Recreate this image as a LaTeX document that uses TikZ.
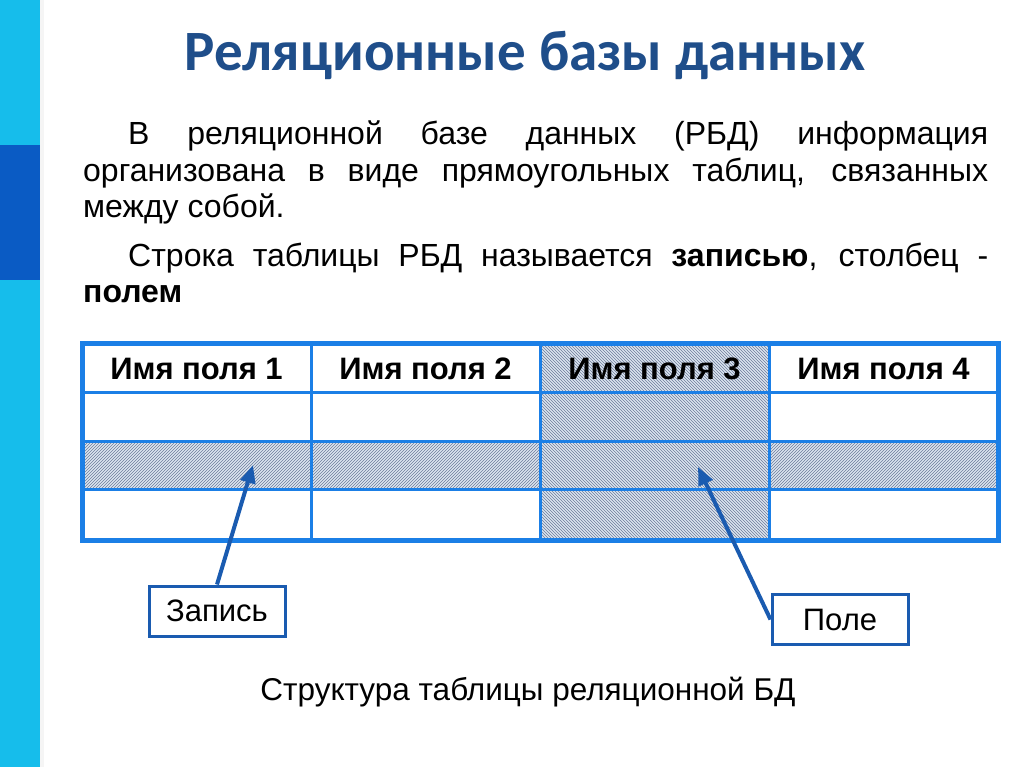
\documentclass[tikz,border=0pt]{standalone}
\usepackage{fontspec}
\setmainfont{Liberation Sans}
\newfontfamily\titlefont{Carlito}
\usetikzlibrary{patterns,arrows.meta}
\definecolor{barcyan}{HTML}{16BDEB}
\definecolor{bardark}{HTML}{0A5BC4}
\definecolor{titleblue}{HTML}{1F4E8A}
\definecolor{gridblue}{HTML}{1B7FE6}
\definecolor{arrowblue}{HTML}{1A5BB0}
\definecolor{hatchbg}{HTML}{DCE5F0}
\definecolor{hatchline}{HTML}{6C7C9A}
\tikzset{
  titletext/.style={font=\titlefont\bfseries\fontsize{57}{66}\selectfont, text=titleblue, inner sep=0},
  bodyline/.style={anchor=base west, inner sep=0, font=\fontsize{32}{36}\selectfont},
  headtext/.style={font=\bfseries\fontsize{31}{34}\selectfont, inner sep=0},
  labelbox/.style={draw=arrowblue, line width=3pt, fill=white, minimum width=136pt, minimum height=50pt, inner sep=0, font=\fontsize{31}{34}\selectfont},
  pointer/.style={draw=arrowblue, line width=4pt, -{Triangle[length=18pt,width=15pt]}},
  captiontext/.style={font=\fontsize{31.5}{34}\selectfont, inner sep=0},
}
\begin{document}
\begin{tikzpicture}[x=1pt,y=-1pt]
\useasboundingbox (0,0) rectangle (1024,767);
\fill[white] (0,0) rectangle (1024,767);
\fill[barcyan] (0,0) rectangle (40,767);
\fill[bardark] (0,145) rectangle (40,280);
\fill[black!4] (40,0) rectangle (44,767);

\node[titletext] (title) at (525,55) {Реляционные базы данных};

\node[bodyline] (l1) at (83,145) {\makebox[905pt][s]{\hspace*{45pt}В реляционной базе данных (РБД) информация}};
\node[bodyline] (l2) at (83,182) {\makebox[905pt][s]{организована в виде прямоугольных таблиц, связанных}};
\node[bodyline] (l3) at (83,218) {между собой.};
\node[bodyline] (l4) at (83,266) {\makebox[905pt][s]{\hspace*{45pt}Строка таблицы РБД называется \textbf{записью}, столбец -}};
\node[bodyline] (l5) at (83,302) {\textbf{полем}};

% hatched areas
\fill[hatchbg] (82,441) rectangle (998,489);
\fill[pattern=north east lines, pattern color=hatchline] (82,441) rectangle (998,489);
\fill[hatchbg] (540,343) rectangle (769,540);
\fill[pattern=north west lines, pattern color=hatchline] (540,343) rectangle (769,540);

% grid
\draw[gridblue, line width=3pt] (82,392) -- (998,392) (82,441) -- (998,441) (82,489) -- (998,489);
\draw[gridblue, line width=3pt] (311,343) -- (311,540) (540,343) -- (540,540) (769,343) -- (769,540);
\draw[gridblue, line width=5pt] (82,343) rectangle (998,540);

\node[headtext] (h1) at (196.5,369) {Имя поля 1};
\node[headtext] (h2) at (425.5,369) {Имя поля 2};
\node[headtext] (h3) at (654.5,369) {Имя поля 3};
\node[headtext] (h4) at (883.5,369) {Имя поля 4};

\coordinate (rowpt) at (253,465);
\coordinate (colpt) at (698,467);

\node[labelbox] (zap) at (217,611) {Запись};
\node[labelbox] (pole) at (840,619.5) {Поле};

\draw[pointer] (zap.north) -- (rowpt);
\draw[pointer] (pole.west) -- (colpt);

\node[captiontext] (cap) at (528,692) {Структура таблицы реляционной БД};
\end{tikzpicture}
\end{document}
